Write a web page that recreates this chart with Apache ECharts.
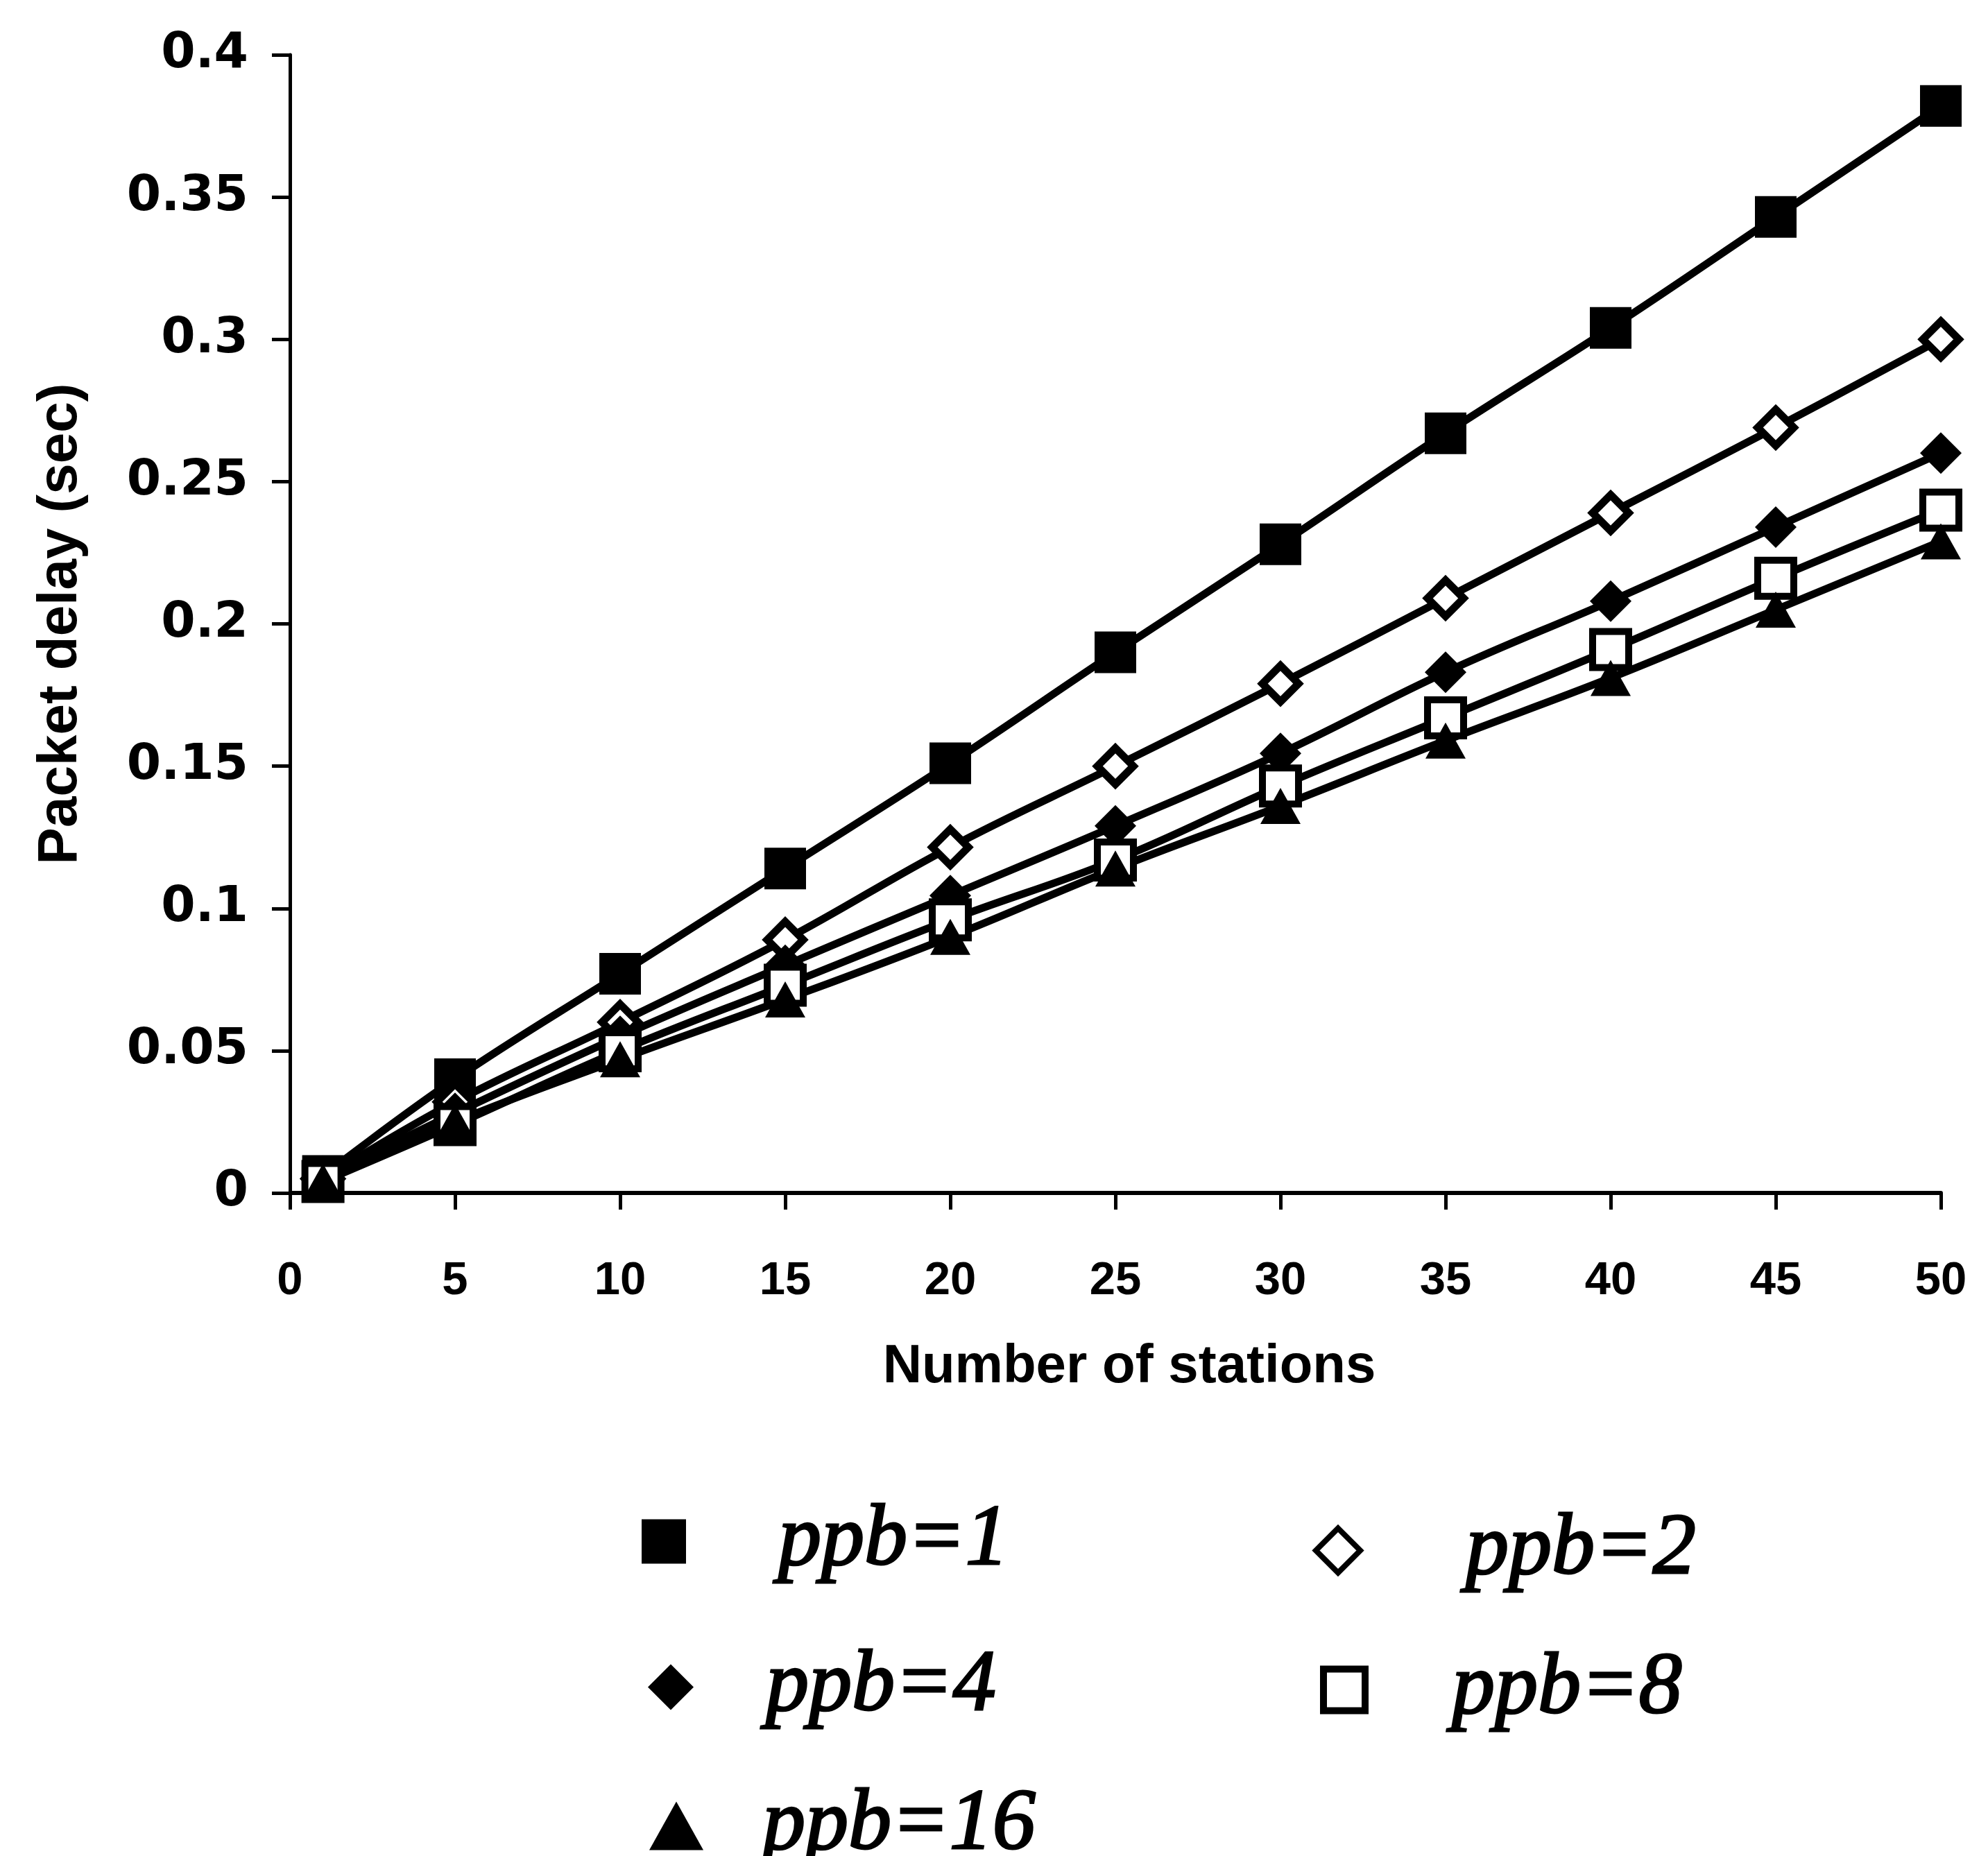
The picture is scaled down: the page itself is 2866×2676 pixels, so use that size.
<!DOCTYPE html>
<html>
<head>
<meta charset="utf-8">
<title>Packet delay vs number of stations</title>
<script src="https://cdn.jsdelivr.net/npm/echarts@6/dist/echarts.min.js"></script>
<style>
  html, body { margin: 0; padding: 0; background: #fff; }
  #chart { width: 2866px; height: 2676px; }
</style>
</head>
<body>
<div id="chart"></div>
<script>
// Number of stations on the x axis
const stations = [1, 5, 10, 15, 20, 25, 30, 35, 40, 45, 50];

// Mean packet delay (sec) for each packets-per-burst setting
const delayPpb1  = [0.006, 0.040, 0.077, 0.114, 0.151, 0.190, 0.228, 0.267, 0.304, 0.343, 0.382];
const delayPpb2  = [0.005, 0.032, 0.060, 0.089, 0.1215, 0.150, 0.179, 0.209, 0.239, 0.269, 0.300];
const delayPpb4  = [0.005, 0.028, 0.055, 0.080, 0.1045, 0.129, 0.1545, 0.183, 0.208, 0.234, 0.260];
const delayPpb8  = [0.004, 0.024, 0.050, 0.073, 0.096, 0.117, 0.143, 0.167, 0.191, 0.216, 0.240];
const delayPpb16 = [0.004, 0.025, 0.047, 0.068, 0.090, 0.114, 0.136, 0.159, 0.181, 0.205, 0.229];

const seriesNames = ['ppb=1', 'ppb=2', 'ppb=4', 'ppb=8', 'ppb=16'];

const pairs = vals => stations.map((s, i) => [s, vals[i]]);

const lineStyle = { color: '#000', width: 11 };

const chart = echarts.init(document.getElementById('chart'), null, { renderer: 'canvas' });

// Italic serif key labels, given a slight outline for a heavier stroke
const legendText = {
  fontFamily: 'Liberation Serif', fontStyle: 'italic', fontWeight: 'normal', fontSize: 124,
  color: '#000', textBorderColor: '#000', textBorderWidth: 3
};

// One legend block per entry so each key sits where it belongs in the two-column layout
function legendAt(name, icon, left, top, w, h, padLeft, itemStyle) {
  return {
    show: true,
    orient: 'horizontal',
    left: left,
    top: top,
    padding: 0,
    itemWidth: w,
    itemHeight: h,
    selectedMode: false,
    data: [{ name: name, icon: icon, itemStyle: itemStyle }],
    textStyle: Object.assign({ padding: [0, 0, 0, padLeft] }, legendText)
  };
}

const option = {
  backgroundColor: '#fff',
  animation: false,
  grid: { left: 418, right: 68, top: 79, bottom: 956, containLabel: false },
  xAxis: {
    type: 'value',
    min: 0,
    max: 50,
    interval: 5,
    name: 'Number of stations',
    nameLocation: 'middle',
    nameGap: 212,
    nameTextStyle: { fontFamily: 'Liberation Sans', fontWeight: 'bold', fontSize: 78, color: '#000', padding: [0, 0, 0, 40] },
    axisLine: { show: true, lineStyle: { color: '#000', width: 6 } },
    axisTick: { show: true, inside: false, length: 24, lineStyle: { color: '#000', width: 5 } },
    axisLabel: { margin: 94, fontFamily: 'Liberation Sans', fontWeight: 'bold', fontSize: 67, color: '#000' },
    splitLine: { show: false }
  },
  yAxis: {
    type: 'value',
    min: 0,
    max: 0.4,
    interval: 0.05,
    name: 'Packet delay (sec)',
    nameLocation: 'middle',
    nameRotate: 90,
    nameGap: 290,
    nameTextStyle: { fontFamily: 'Liberation Sans', fontWeight: 'bold', fontSize: 80, color: '#000' },
    axisLine: { show: true, lineStyle: { color: '#000', width: 5 } },
    axisTick: { show: true, inside: false, length: 26, lineStyle: { color: '#000', width: 5 } },
    axisLabel: { margin: 60, fontFamily: 'DejaVu Sans', fontWeight: 'bold', fontSize: 71, color: '#000' },
    splitLine: { show: false }
  },
  legend: [
    legendAt('ppb=1', 'rect', 925, 2159, 64, 64, 128, { color: '#000', borderWidth: 0 }),
    legendAt('ppb=2', 'diamond', 1893, 2172, 64, 64, 147, { color: '#fff', borderColor: '#000', borderWidth: 8 }),
    legendAt('ppb=4', 'diamond', 934, 2369, 66, 66, 99, { color: '#000', borderWidth: 0 }),
    legendAt('ppb=8', 'rect', 1903, 2373, 60, 60, 120, { color: '#fff', borderColor: '#000', borderWidth: 10 }),
    legendAt('ppb=16', 'triangle', 936, 2569, 78, 70, 80, { color: '#000', borderWidth: 0 })
  ],
  series: [
    {
      name: seriesNames[0], type: 'line', smooth: 0.4, data: pairs(delayPpb1),
      symbol: 'rect', symbolSize: 60,
      itemStyle: { color: '#000' }, lineStyle: lineStyle
    },
    {
      name: seriesNames[1], type: 'line', smooth: 0.4, data: pairs(delayPpb2),
      symbol: 'diamond', symbolSize: 52,
      itemStyle: { color: '#fff', borderColor: '#000', borderWidth: 11 }, lineStyle: lineStyle
    },
    {
      name: seriesNames[2], type: 'line', smooth: 0.4, data: pairs(delayPpb4),
      symbol: 'diamond', symbolSize: 60,
      itemStyle: { color: '#000' }, lineStyle: lineStyle
    },
    {
      name: seriesNames[3], type: 'line', smooth: 0.4, data: pairs(delayPpb8),
      symbol: 'rect', symbolSize: 52,
      itemStyle: { color: '#fff', borderColor: '#000', borderWidth: 10 }, lineStyle: lineStyle
    },
    {
      name: seriesNames[4], type: 'line', smooth: 0.4, data: pairs(delayPpb16),
      symbol: 'triangle', symbolSize: [58, 52],
      itemStyle: { color: '#000' }, lineStyle: lineStyle
    }
  ]
};

chart.setOption(option);
</script>
</body>
</html>
